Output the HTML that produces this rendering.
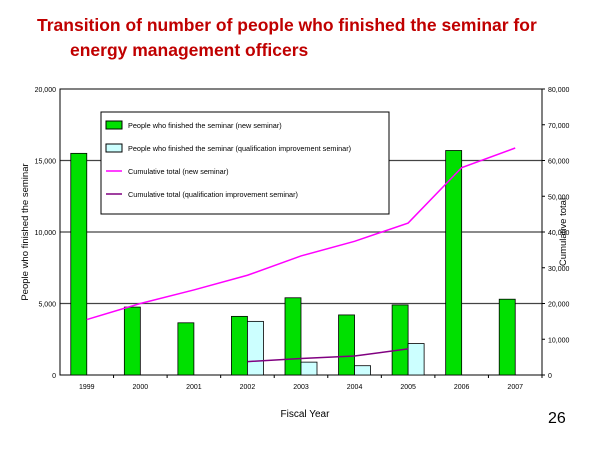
<!DOCTYPE html>
<html><head><meta charset="utf-8"><style>
body{margin:0;background:#fff;font-family:"Liberation Sans",sans-serif}
#wrap{position:relative;width:600px;height:450px;overflow:hidden}
.title{position:absolute;color:#c00000;font-weight:bold;font-size:17.5px}
</style></head><body>
<div id="wrap">
<div class="title" style="left:37px;top:15px">Transition of number of people who finished the seminar for</div>
<div class="title" style="left:70px;top:40px">energy management officers</div>
<div style="position:absolute;left:548px;top:410px;font-size:16px">26</div>
<svg id="chart" width="600" height="450" style="position:absolute;left:0;top:0"></svg>
</div>
<script>
const categories=["1999","2000","2001","2002","2003","2004","2005","2006","2007"];
const newSeminar=[15500,4750,3650,4100,5400,4200,4900,15700,5300];
const qualSeminar=[null,null,null,3750,900,650,2200,null,null];
const cumNew=[15500,20000,23800,27900,33300,37400,42500,58000,63500];
const cumQual=[null,null,null,3750,4600,5300,7300,null,null];
const leftTicks=[0,5000,10000,15000,20000];
const rightTicks=[0,10000,20000,30000,40000,50000,60000,70000,80000];
const svg=document.getElementById('chart');const NS='http://www.w3.org/2000/svg';
const L=60,R=542,T=89,B=375,bw=(R-L)/categories.length;
const yL=v=>B-(v/20000)*(B-T), yR=v=>B-(v/80000)*(B-T), xc=i=>L+bw*(i+0.5);
function mk(t,a,txt){const e=document.createElementNS(NS,t);for(const k in a)e.setAttribute(k,a[k]);if(txt!=null)e.textContent=txt;svg.appendChild(e);return e;}
const fmt=v=>v.toLocaleString('en-US');
leftTicks.forEach(v=>{if(v>0&&v<20000){const g=mk('line',{x1:L,x2:R,y1:yL(v),y2:yL(v),stroke:'#444','stroke-width':1.2});}
const t=mk('text',{x:L-4,y:yL(v)+3,'font-size':7,'text-anchor':'end'},fmt(v));});
rightTicks.forEach(v=>{mk('line',{x1:R,x2:R+3,y1:yR(v),y2:yR(v),stroke:'#000'});const t=mk('text',{x:R+6,y:yR(v)+3,'font-size':7},fmt(v));});
mk('rect',{x:L,y:T,width:R-L,height:B-T,fill:'none',stroke:'#000','stroke-width':1});
categories.forEach((c,i)=>{mk('line',{x1:L+bw*(i+1),x2:L+bw*(i+1),y1:B,y2:B+3,stroke:'#000'});
const t=mk('text',{x:xc(i),y:B+14,'font-size':7,'text-anchor':'middle'},c);
const b=mk('rect',{x:xc(i)-16,y:yL(newSeminar[i]),width:16,height:B-yL(newSeminar[i]),fill:'#00e000',stroke:'#000','stroke-width':0.8});
if(qualSeminar[i]!=null){const q=mk('rect',{x:xc(i),y:yL(qualSeminar[i]),width:16,height:B-yL(qualSeminar[i]),fill:'#ccffff',stroke:'#000','stroke-width':0.8});}});
function line(arr,col,name){const pts=[];arr.forEach((v,i)=>{if(v!=null)pts.push(xc(i)+','+yR(v));});const p=mk('polyline',{points:pts.join(' '),fill:'none',stroke:col,'stroke-width':1.5});}
line(cumNew,'#ff00ff','line-cumulative-new');line(cumQual,'#800080','line-cumulative-qual');
const lg=mk('rect',{x:101,y:112,width:288,height:102,fill:'#fff',stroke:'#000'});
const items=[['rect','#00e000','People who finished the seminar (new seminar)'],['rect','#ccffff','People who finished the seminar (qualification improvement seminar)'],['line','#ff00ff','Cumulative total (new seminar)'],['line','#800080','Cumulative total (qualification improvement seminar)']];
items.forEach((it,k)=>{const y=125+k*23;
if(it[0]=='rect')mk('rect',{x:106,y:y-4,width:16,height:8,fill:it[1],stroke:'#000'});else mk('line',{x1:106,x2:122,y1:y,y2:y,stroke:it[1],'stroke-width':1.5});
const t=mk('text',{x:128,y:y+3,'font-size':7.3},it[2]);});
const yl=mk('text',{x:0,y:0,'font-size':9.5,'text-anchor':'middle',transform:'translate(28,232) rotate(-90)'},'People who finished the seminar');
const yr=mk('text',{x:0,y:0,'font-size':9.5,'text-anchor':'middle',transform:'translate(566,232) rotate(-90)'},'Cumulative total');
const xt=mk('text',{x:305,y:417,'font-size':10,'text-anchor':'middle'},'Fiscal Year');
</script></body></html>
